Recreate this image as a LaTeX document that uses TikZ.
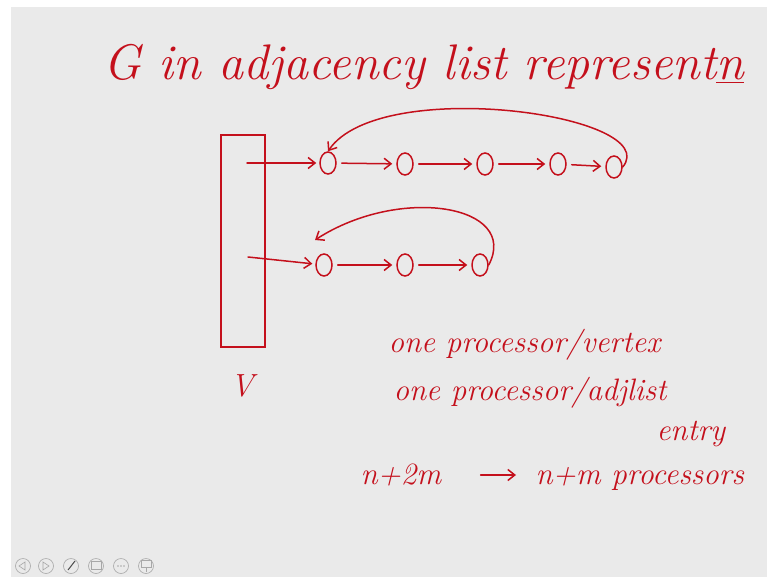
\documentclass[tikz,border=0pt]{standalone}
\usepackage{tikz}
\usetikzlibrary{positioning, calc, arrows.meta, shapes.geometric}
\usepackage{xcolor}
\definecolor{InkRed}  {HTML}{C4101C}
\definecolor{SlideBg} {HTML}{EAEAEA}
\definecolor{IconGray}{HTML}{A8A8A8}
\tikzset{
  every node/.style={font=\itshape, text=InkRed},
  ink/.style   ={draw=InkRed, line width=1.5pt, line cap=round},
  link/.style  ={ink, -{Straight Barb[length=7pt,width=11pt]}},
  hop/.style   ={link, shorten <=5pt, shorten >=4pt},
  cell/.style  ={ellipse, ink, minimum width=16pt, minimum height=22pt, inner sep=0pt},
  title/.style ={font=\fontsize{50}{54}\selectfont\itshape, anchor=base west},
  note/.style  ={font=\fontsize{31}{34}\selectfont\itshape, anchor=base west},
  navbtn/.style={circle, draw=IconGray, line width=0.6pt, minimum size=15pt, inner sep=0pt},
}

\begin{document}
\begin{tikzpicture}[x=1pt, y=-1pt]

% slide background
\useasboundingbox (0,0) rectangle (767,577);
\fill[white] (0,0) rectangle (767,577);
\fill[SlideBg] (11,7) rectangle (767,577);

\node[title] (head) at (100,80) {G in adjacency list represent\underline{n}};

% vertex array
\node[ink, rectangle, minimum width=44pt, minimum height=212pt] (varr) at (243,241) {};
\node[font=\fontsize{32}{34}\selectfont\itshape] (vlbl) at (242,386) {V};
\coordinate (p1) at (247,163);
\coordinate (p2) at (248,257);

% first adjacency list
\node[cell] (a1) at (328,163) {};
\node[cell] (a2) at (405,164) {};
\node[cell] (a3) at (485,164) {};
\node[cell] (a4) at (558,164) {};
\node[cell] (a5) at (614,167) {};
\draw[link, shorten >=3pt] (p1) -- (a1);
\draw[hop] (a1) -- (a2);
\draw[hop] (a2) -- (a3);
\draw[hop] (a3) -- (a4);
\draw[hop] (a4) -- (a5);
\draw[link] (a5.east) .. controls (665,115) and (380,75) .. (a1.north);

% second adjacency list
\node[cell] (b1) at (324,265) {};
\node[cell] (b2) at (405,265) {};
\node[cell] (b3) at (480,265) {};
\draw[link, shorten >=3pt] (p2) -- (b1);
\draw[hop] (b1) -- (b2);
\draw[hop] (b2) -- (b3);
\draw[link] (b3.east) .. controls (520,205) and (400,185) .. (315,240);

% processor counts
\node[note] (pv)   at (385,352) {one processor/vertex};
\node[note] (pa)   at (390,400) {one processor/adjlist};
\node[note] (pe)   at (653,440) {entry};
\node[note] (cost) at (357,484) {n+2m};
\node[note] (proc) at (532,484) {n+m processors};
\coordinate (c1) at ($(cost.base east)+(36,-9)$);
\coordinate (c2) at ($(proc.base west)+(-16,-9)$);
\draw[link] (c1) -- (c2);

% navigation buttons
\foreach \i/\px in {1/23, 2/46, 3/71, 4/96, 5/121, 6/146}
  \node[navbtn] (nav\i) at (\px,566) {};
\draw[IconGray, line width=0.6pt] (19,566) -- (25,562) -- (25,570) -- cycle;
\draw[IconGray, line width=0.6pt] (49,566) -- (43,562) -- (43,570) -- cycle;
\draw[black!70, line width=1pt] (68,570) -- (75,561);
\draw[IconGray, line width=0.6pt] (91,561) rectangle (101,569);
\foreach \dx in {-3,0,3} \fill[IconGray] (121+\dx,566) circle (0.8pt);
\draw[IconGray, line width=0.6pt] (141,560) rectangle (151,567) (146,567) -- (146,572);

\end{tikzpicture}
\end{document}
